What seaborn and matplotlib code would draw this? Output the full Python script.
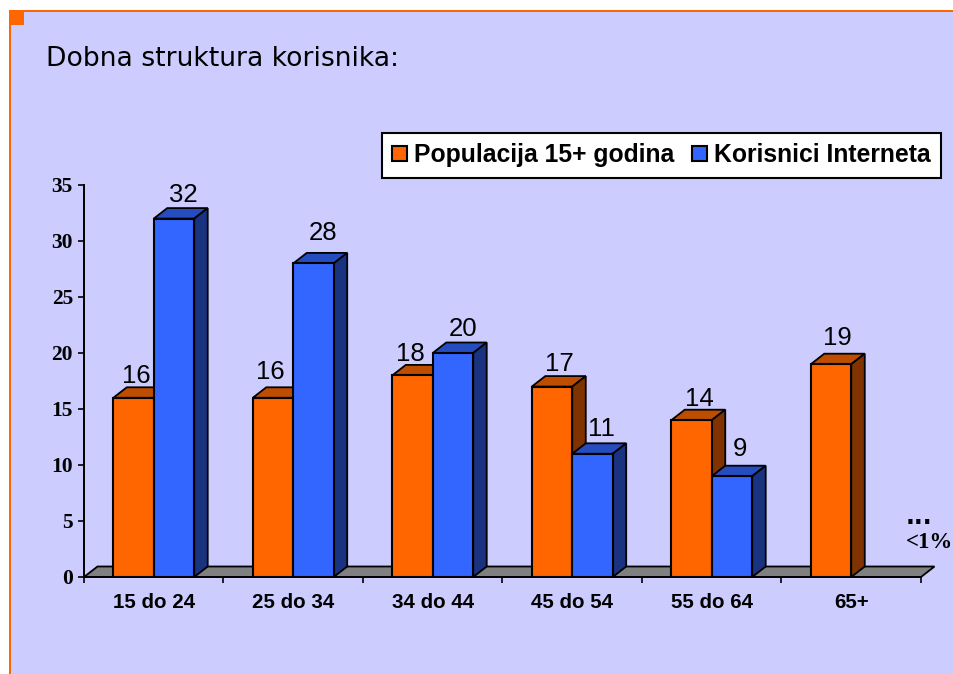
import matplotlib
matplotlib.use("Agg")
import matplotlib.pyplot as plt
from matplotlib.patches import Polygon, Rectangle
from matplotlib.ticker import FixedLocator, NullFormatter
import numpy as np
import pandas as pd
import seaborn as sns

# ---- data ----
age_groups = ["15 do 24", "25 do 34", "34 do 44", "45 do 54", "55 do 64", "65+"]
population = [16, 16, 18, 17, 14, 19]
internet_users = [32, 28, 20, 11, 9, np.nan]
series_names = ["Populacija 15+ godina", "Korisnici Interneta"]
y_ticks = [0, 5, 10, 15, 20, 25, 30, 35]

# ---- style ----
BG = "#CCCCFF"
ORANGE = "#FF6600"
BLUE = "#3366FF"
FACES = {ORANGE: ("#BF4D00", "#803300"), BLUE: ("#264DBF", "#1A3380")}
W, H = 954, 674
DEPTH_X, DEPTH_Y = 13.5, 10.5      # oblique depth of the fake 3D, in pixels
SANS_BOLD = dict(family="Liberation Sans", fontweight="bold")
SERIF_BOLD = dict(family="Liberation Serif", fontweight="bold")
# hand placement of the value labels above each bar (pixels), series by series
label_nudge = [[(3, 22), (-3, 26), (-2, 21), (7, 23), (8, 21), (6, 26)],
               [(9, 24), (10, 30), (10, 24), (9, 25), (8, 27)]]

sns.set_theme(style="white", rc={"axes.facecolor": "none", "figure.facecolor": "white",
                                 "text.color": "black"})

df = pd.DataFrame({
    "group": age_groups * 2,
    "series": [series_names[0]] * 6 + [series_names[1]] * 6,
    "value": population + internet_users,
})

fig = plt.figure(figsize=(W / 100, H / 100), dpi=100)
ax = fig.add_axes([84 / W, (H - 577) / H, (921 - 84) / W, (577 - 185) / H])


def fx(px):
    return px / W


def fy(py):
    return 1 - py / H


# slide background with the orange edge and corner square
fig.add_artist(Rectangle((fx(9), 0), fx(W - 9), fy(10), transform=fig.transFigure,
                         fc=ORANGE, ec="none", zorder=-5))
fig.add_artist(Rectangle((fx(11), 0), fx(W - 11), fy(12), transform=fig.transFigure,
                         fc=BG, ec="none", zorder=-4))
fig.add_artist(Rectangle((fx(9), fy(25)), fx(15), 15 / H, transform=fig.transFigure,
                         fc=ORANGE, ec="none", zorder=-3))

sns.barplot(data=df, x="group", y="value", hue="series", hue_order=series_names,
            palette=[ORANGE, BLUE], saturation=1, width=0.58, gap=0, errorbar=None,
            edgecolor="black", linewidth=1.5, ax=ax)

ax.set_xlim(-0.5, 5.5)
ax.set_ylim(0, 35)
ax.set_xlabel("")
ax.set_ylabel("")
ax.set_yticks(y_ticks)
for s in ("top", "right"):
    ax.spines[s].set_visible(False)
for s in ("left", "bottom"):
    ax.spines[s].set_color("black")
    ax.spines[s].set_linewidth(1.4)

ax.xaxis.set_minor_locator(FixedLocator(np.arange(-0.5, 6)))
ax.xaxis.set_minor_formatter(NullFormatter())
ax.tick_params(axis="x", which="minor", bottom=True, length=4.5, width=1.2, color="black")
ax.tick_params(axis="x", which="major", bottom=False, length=0, pad=11.5)
ax.tick_params(axis="y", which="major", left=True, length=4, width=1.2, color="black", pad=4)
for t in ax.get_xticklabels():
    t.set(fontsize=14.8, color="black", **SANS_BOLD)
for t in ax.get_yticklabels():
    t.set(fontsize=15.5, color="black", **SERIF_BOLD)

# depth expressed in data units, from the axes' own scale
origin = ax.transData.transform((0, 0))
dx = ax.transData.inverted().transform(origin + [DEPTH_X, 0])[0]
dy = ax.transData.inverted().transform(origin + [0, DEPTH_Y])[1]

# floor
ax.add_patch(Polygon([(-0.5, 0), (-0.5 + dx, dy), (5.5 + dx, dy), (5.5, 0)], closed=True,
                     fc="#808080", ec="black", lw=1.3, zorder=1, clip_on=False))

for s_idx, (container, color) in enumerate(zip(ax.containers, [ORANGE, BLUE])):
    top_c, side_c = FACES[color]
    for b_idx, bar in enumerate(container):
        h = bar.get_height()
        if not np.isfinite(h) or h == 0:
            continue
        x0, x1 = bar.get_x(), bar.get_x() + bar.get_width()
        z = 3 + 2 * s_idx
        bar.set_zorder(z + 1)
        ax.add_patch(Polygon([(x0, h), (x0 + dx, h + dy), (x1 + dx, h + dy), (x1, h)],
                             closed=True, fc=top_c, ec="black", lw=1.3, zorder=z, clip_on=False))
        ax.add_patch(Polygon([(x1, 0), (x1 + dx, dy), (x1 + dx, h + dy), (x1, h)],
                             closed=True, fc=side_c, ec="black", lw=1.3, zorder=z, clip_on=False))
        nx, ny = label_nudge[s_idx][b_idx]
        ax.annotate(f"{h:.0f}", xy=((x0 + x1) / 2, h), xytext=(nx * 0.72, ny * 0.72),
                    textcoords="offset points", ha="center", va="center",
                    family="Liberation Sans", fontsize=18.5, color="black", zorder=20)

# legend
handles, labels = ax.get_legend_handles_labels()
ax.legend(handles, labels, ncols=2, loc="upper left",
          bbox_to_anchor=(fx(382), fy(133)), bbox_transform=fig.transFigure,
          borderaxespad=0, fancybox=False, framealpha=1, facecolor="white",
          edgecolor="black", labelcolor="black", handlelength=0.58, handleheight=0.58,
          handletextpad=0.28, columnspacing=0.75, borderpad=0.42,
          prop=dict(family="Liberation Sans", weight="bold", size=17.8)
          ).get_frame().set_linewidth(1.5)

fig.text(fx(46), fy(59), "Dobna struktura korisnika:", family="DejaVu Sans", fontsize=19.2,
         color="black", ha="left", va="center")
fig.text(fx(906), fy(517), "...", family="DejaVu Sans", fontweight="bold", fontsize=17,
         color="black", ha="left", va="center")
fig.text(fx(906), fy(543), "<1%", family="Liberation Serif", fontweight="bold", fontsize=16.5,
         color="black", ha="left", va="center")

fig.savefig("out.png", dpi=100)
